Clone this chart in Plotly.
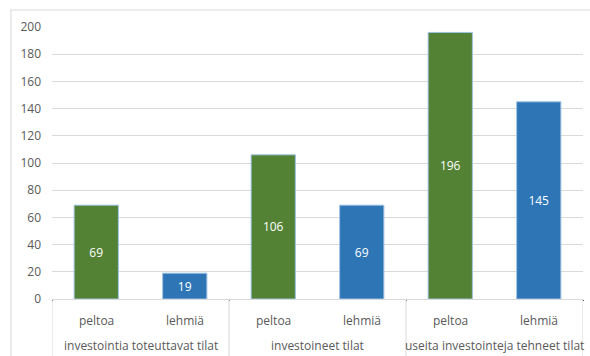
import plotly.graph_objects as go

groups = ["investointia toteuttavat tilat", "investointia toteuttavat tilat",
          "investoineet tilat", "investoineet tilat",
          "useita investointeja tehneet tilat", "useita investointeja tehneet tilat"]
subs = ["peltoa", "lehmiä", "peltoa", "lehmiä", "peltoa", "lehmiä"]
values = [69, 19, 106, 69, 196, 145]
bar_colors = ["#548235", "#2E75B6", "#548235", "#2E75B6", "#548235", "#2E75B6"]
y_ticks = [0, 20, 40, 60, 80, 100, 120, 140, 160, 180, 200]

FONT = "Open Sans, Liberation Sans, sans-serif"
GRAY = "#D9D9D9"
TXT = "#595959"

fig = go.Figure()
fig.add_trace(go.Bar(
    x=[groups, subs],
    y=values,
    marker=dict(color=bar_colors, line=dict(color="#9DC3E6", width=1)),
    width=0.5,
    text=[str(v) for v in values],
    textposition="inside",
    insidetextanchor="middle",
    textfont=dict(color="white", size=12, family=FONT),
    showlegend=False,
    hoverinfo="skip",
))

annotations = []
# first-level labels (sub-categories)
for i, s in enumerate(subs):
    annotations.append(dict(x=i, y=(299 - 320) / 272, xref="x", yref="paper",
                            xanchor="center", yanchor="middle",
                            text=s, showarrow=False,
                            font=dict(size=12, color=TXT, family=FONT)))
# second-level labels (groups)
unique_groups = []
for g in groups:
    if g not in unique_groups:
        unique_groups.append(g)
for gi, g in enumerate(unique_groups):
    idx = [i for i, gg in enumerate(groups) if gg == g]
    annotations.append(dict(x=sum(idx) / len(idx), y=(299 - 345) / 272,
                            xref="x", yref="paper", xanchor="center", yanchor="middle",
                            text=g, showarrow=False,
                            font=dict(size=12, color=TXT, family=FONT)))

shapes = [
    dict(type="line", xref="paper", yref="paper",
         x0=(10 - 52) / 531, x1=(590 - 52) / 531,
         y0=(299 - 10) / 272, y1=(299 - 10) / 272,
         line=dict(color=GRAY, width=1)),
    dict(type="line", xref="paper", yref="paper",
         x0=(11 - 52) / 531, x1=(11 - 52) / 531,
         y0=(299 - 10) / 272, y1=(299 - 360) / 272,
         line=dict(color=GRAY, width=1)),
]
# dividers between groups
for b in [-0.5, 1.5, 3.5, 5.5]:
    shapes.append(dict(type="line", xref="x", yref="paper",
                       x0=b, x1=b, y0=0, y1=(299 - 360) / 272,
                       line=dict(color=GRAY, width=1)))

fig.update_layout(
    width=590, height=356,
    margin=dict(l=52, r=7, t=27, b=57),
    plot_bgcolor="white", paper_bgcolor="white",
    font=dict(family=FONT, color=TXT, size=12),
    xaxis=dict(
        type="multicategory",
        showline=True, linecolor=GRAY, linewidth=1,
        showgrid=False,
        ticks="",
        showticklabels=False,
        range=[-0.5, 5.5],
    ),
    yaxis=dict(
        range=[0, 200],
        tickvals=y_ticks,
        showgrid=True, gridcolor=GRAY, gridwidth=1,
        zeroline=False,
        showline=False,
        ticks="",
        ticklabelstandoff=10,
        tickfont=dict(size=12, color=TXT),
    ),
    shapes=shapes,
    annotations=annotations,
)

fig.write_html("out.html")
